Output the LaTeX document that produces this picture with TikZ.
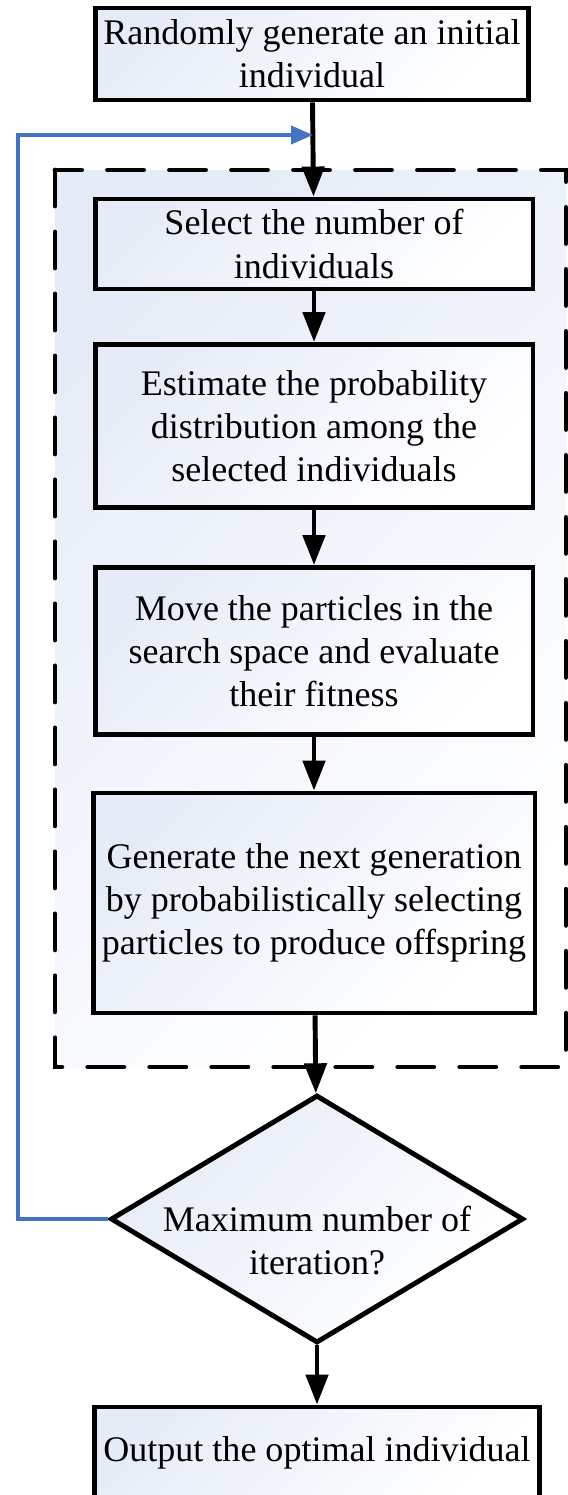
\documentclass[tikz,border=0pt]{standalone}
\usepackage{fontspec}
\IfFontExistsTF{LiberationSerif-Regular.ttf}
  {\setmainfont{LiberationSerif-Regular.ttf}[BoldFont=LiberationSerif-Bold.ttf]}
  {\setmainfont{Liberation Serif}}
\usetikzlibrary{arrows.meta,shapes.geometric}
\definecolor{boxblue}{RGB}{230,236,247}
\definecolor{loopblue}{RGB}{68,114,196}

\begin{document}
\begin{tikzpicture}[x=0.02cm, y=-0.02cm,
  >={Triangle[length=0.6cm,width=0.44cm]},
  stepbox/.style={draw, line width=2.8pt, top color=boxblue, bottom color=white,
    shading angle=45, align=center, inner sep=0pt,
    font=\fontsize{20.5}{24.5}\selectfont},
  flow/.style={->, line width=2.8pt},
  loop/.style={->, loopblue, line width=2.2pt,
    >={Triangle[length=0.44cm,width=0.36cm]}}]

  % 页面范围
  \useasboundingbox (0,0) rectangle (568,1495);

  % 虚线框 (循环体)
  \shade[top color=boxblue, bottom color=white, shading angle=45] (55,170) rectangle (566,1067);
  \draw[line width=2.8pt, dash pattern=on 0.72cm off 0.52cm, line cap=round] (55,170) rectangle (566,1067);

  % 步骤
  \node[stepbox, minimum width=8.66cm, minimum height=1.84cm] (init) at (312,54)
    {Randomly generate an initial\\individual};
  \node[stepbox, minimum width=8.76cm, minimum height=1.8cm] (sel) at (314,244)
    {Select the number of\\individuals};
  \node[stepbox, minimum width=8.76cm, minimum height=3.26cm] (est) at (314,426)
    {Estimate the probability\\distribution among the\\selected individuals};
  \node[stepbox, minimum width=8.76cm, minimum height=3.34cm] (mov) at (314,651)
    {Move the particles in the\\search space and evaluate\\their fitness};
  \node[stepbox, minimum width=8.84cm, minimum height=4.4cm] (gen) at (314,903)
    {Generate the next generation\\by probabilistically selecting\\particles to produce offspring};

  % 判断
  \node[stepbox, diamond, minimum width=8.26cm, minimum height=4.96cm] (dec) at (317,1219) {};
  \node[align=center, font=\fontsize{20.5}{24.5}\selectfont, yshift=-0.44cm] (dectext) at (dec)
    {Maximum number of\\iteration?};

  % 输出
  \node[stepbox, minimum width=8.9cm, minimum height=1.84cm] (out) at (317,1453)
    {Output the optimal individual};

  % 主流程
  \draw[flow] (init) -- (sel);
  \draw[flow] (sel) -- (est);
  \draw[flow] (est) -- (mov);
  \draw[flow] (mov) -- (gen);
  \draw[flow] (gen) -- (dec);
  \draw[flow] (dec) -- (out);

  % 回路
  \coordinate (loopin) at (313,135);
  \draw[loop] (dec.west) -- (18,1219) |- (loopin);

\end{tikzpicture}
\end{document}
